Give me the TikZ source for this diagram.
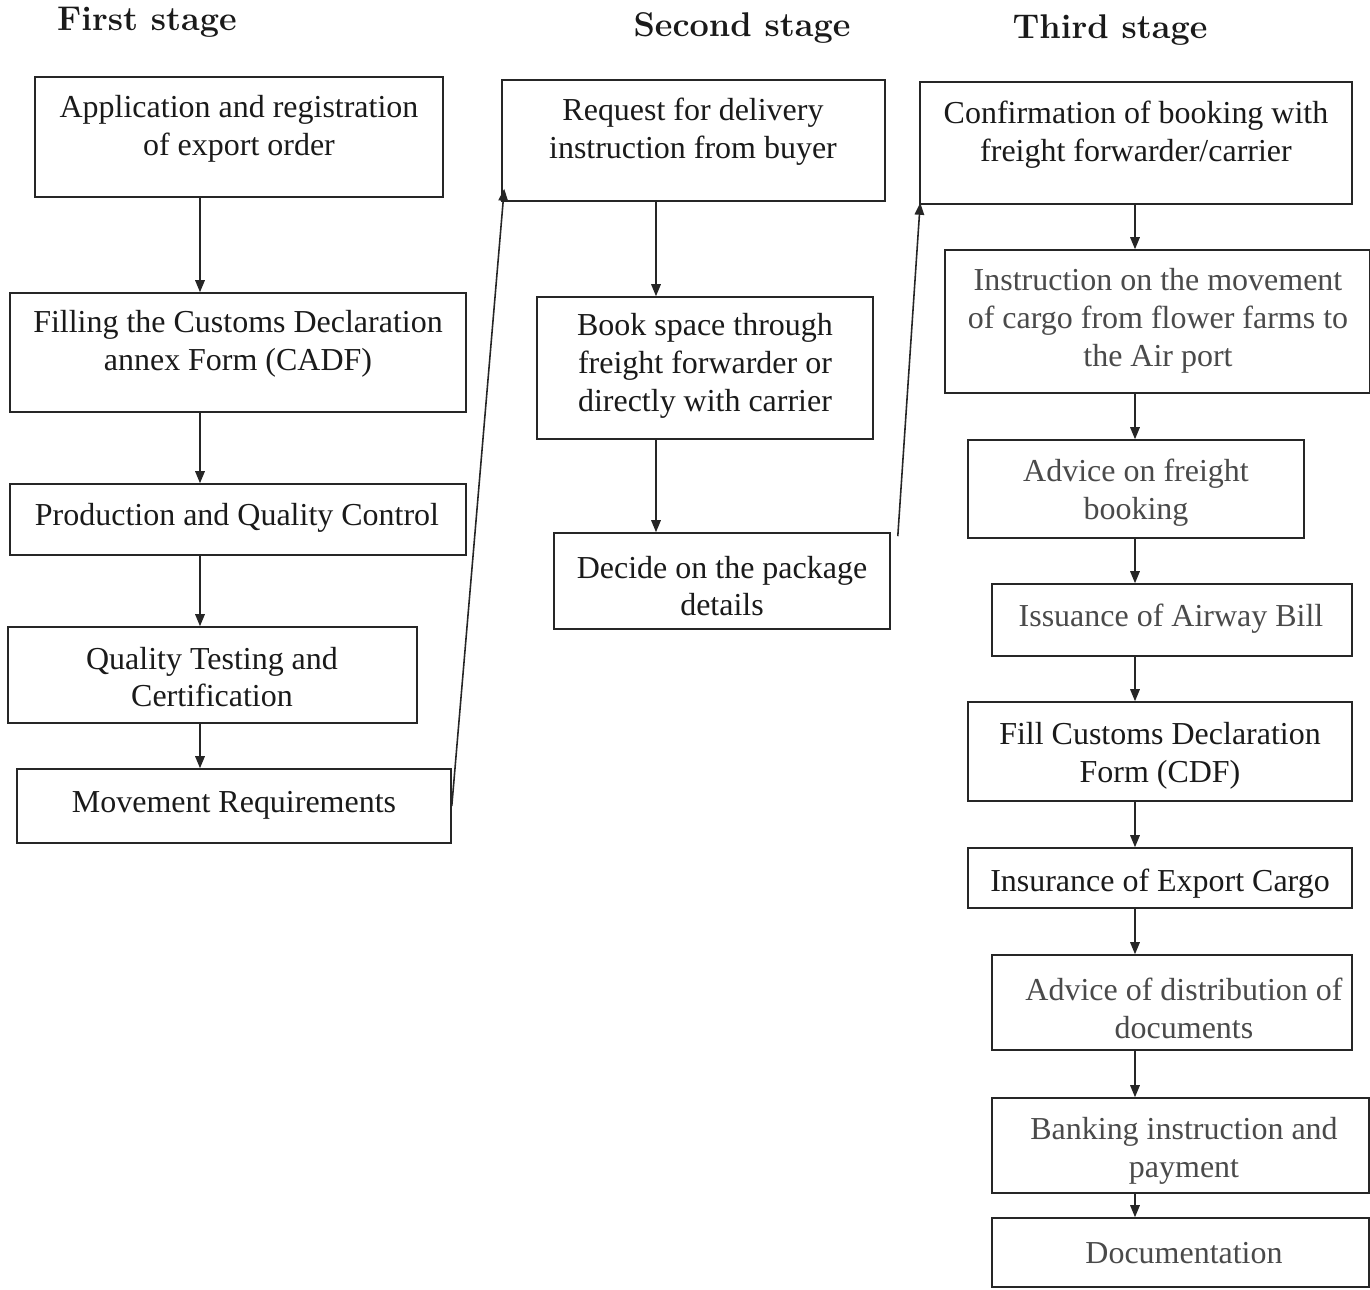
\documentclass[tikz,border=0pt]{standalone}
\usepackage{fontspec}
\newfontfamily\bodyfont{Liberation Serif}
\usetikzlibrary{arrows.meta,calc}
\definecolor{ink}{HTML}{1A1A1A}
\definecolor{fadeink}{HTML}{4A4A4A}
\definecolor{linec}{HTML}{262626}
\tikzset{
  box/.style={draw=linec, line width=0.9pt, inner sep=0pt},
  bxsize/.style 2 args={minimum width=#1*0.02cm, minimum height=#2*0.02cm},
  txt/.style={font=\bodyfont\fontsize{18.2}{21.5}\selectfont, align=center, inner sep=0pt, text=ink},
  faded/.style={text=fadeink},
  head/.style={font=\fontsize{19.5}{22}\selectfont\bfseries, inner sep=0pt, text=ink},
  arr/.style={draw=linec, line width=0.9pt, -{Triangle[length=0.24cm,width=0.19cm]}},
}
\begin{document}
\begin{tikzpicture}[x=0.02cm,y=-0.02cm]
\useasboundingbox[fill=white] (0,0) rectangle (1370,1289);

% stage headings
\node[head] (h1) at (147,22) {First stage};
\node[head] (h2) at (742,28) {Second stage};
\node[head] (h3) at (1110,30) {Third stage};

% arrow columns
\coordinate (colA) at (200,0);
\coordinate (colB) at (656,0);
\coordinate (colC) at (1135,0);

% first stage
\node[box, bxsize={408}{120}] (a1) at (239,137) {};
\node[txt] (a1t) at (239,129) {Application and registration\\of export order};
\node[box, bxsize={456}{119}] (a2) at (238,352.5) {};
\node[txt] (a2t) at (238,344) {Filling the Customs Declaration\\annex Form (CADF)};
\node[box, bxsize={456}{71}] (a3) at (238,519.5) {};
\node[txt] (a3t) at (237,518) {Production and Quality Control};
\node[box, bxsize={409}{96}] (a4) at (212.5,675) {};
\node[txt] (a4t) at (212,677) {Quality Testing and\\Certification};
\node[box, bxsize={434}{74}] (a5) at (234,806) {};
\node[txt] (a5t) at (234,805) {Movement Requirements};

% second stage
\node[box, bxsize={383}{121}] (b1) at (693.5,140.5) {};
\node[txt] (b1t) at (693,132) {Request for delivery\\instruction from buyer};
\node[box, bxsize={336}{142}] (b2) at (705,368) {};
\node[txt] (b2t) at (705,366) {Book space through\\freight forwarder or\\directly with carrier};
\node[box, bxsize={336}{96}] (b3) at (722,581) {};
\node[txt] (b3t) at (722,586) {Decide on the package\\details};

% third stage
\node[box, bxsize={432}{122}] (c1) at (1136,143) {};
\node[txt] (c1t) at (1136,135) {Confirmation of booking with\\freight forwarder/carrier};
\node[box, bxsize={425}{143}] (c2) at (1157.5,321.5) {};
\node[txt, faded] (c2t) at (1158,321) {Instruction on the movement\\of cargo from flower farms to\\the Air port};
\node[box, bxsize={336}{98}] (c3) at (1136,489) {};
\node[txt, faded] (c3t) at (1136,493) {Advice on freight\\booking};
\node[box, bxsize={360}{72}] (c4) at (1172,620) {};
\node[txt, faded] (c4t) at (1171,619) {Issuance of Airway Bill};
\node[box, bxsize={384}{99}] (c5) at (1160,751.5) {};
\node[txt] (c5t) at (1160,756) {Fill Customs Declaration\\Form (CDF)};
\node[box, bxsize={384}{60}] (c6) at (1160,878) {};
\node[txt] (c6t) at (1160,884) {Insurance of Export Cargo};
\node[box, bxsize={360}{95}] (c7) at (1172,1002.5) {};
\node[txt, faded] (c7t) at (1184,1008) {Advice of distribution of\\documents};
\node[box, bxsize={377}{95}] (c8) at (1180.5,1145.5) {};
\node[txt, faded] (c8t) at (1184,1151) {Banking instruction and\\payment};
\node[box, bxsize={377}{69}] (c9) at (1180.5,1252.5) {};
\node[txt, faded] (c9t) at (1184,1253) {Documentation};

% connectors within the stages
\draw[arr] (a1.south -| colA) -- (a2.north -| colA);
\draw[arr] (a2.south -| colA) -- (a3.north -| colA);
\draw[arr] (a3.south -| colA) -- (a4.north -| colA);
\draw[arr] (a4.south -| colA) -- (a5.north -| colA);

\draw[arr] (b1.south -| colB) -- (b2.north -| colB);
\draw[arr] (b2.south -| colB) -- (b3.north -| colB);

\draw[arr] (c1.south -| colC) -- (c2.north -| colC);
\draw[arr] (c2.south -| colC) -- (c3.north -| colC);
\draw[arr] (c3.south -| colC) -- (c4.north -| colC);
\draw[arr] (c4.south -| colC) -- (c5.north -| colC);
\draw[arr] (c5.south -| colC) -- (c6.north -| colC);
\draw[arr] (c6.south -| colC) -- (c7.north -| colC);
\draw[arr] (c7.south -| colC) -- (c8.north -| colC);
\draw[arr] (c8.south -| colC) -- (c9.north -| colC);

% connectors between the stages
\draw[arr] (a5.east) -- ($(b1.south west)+(3,-13)$);
\draw[arr] ($(b3.north east)+(7,4)$) -- ($(c1.south west)+(1,-2)$);
\end{tikzpicture}
\end{document}
